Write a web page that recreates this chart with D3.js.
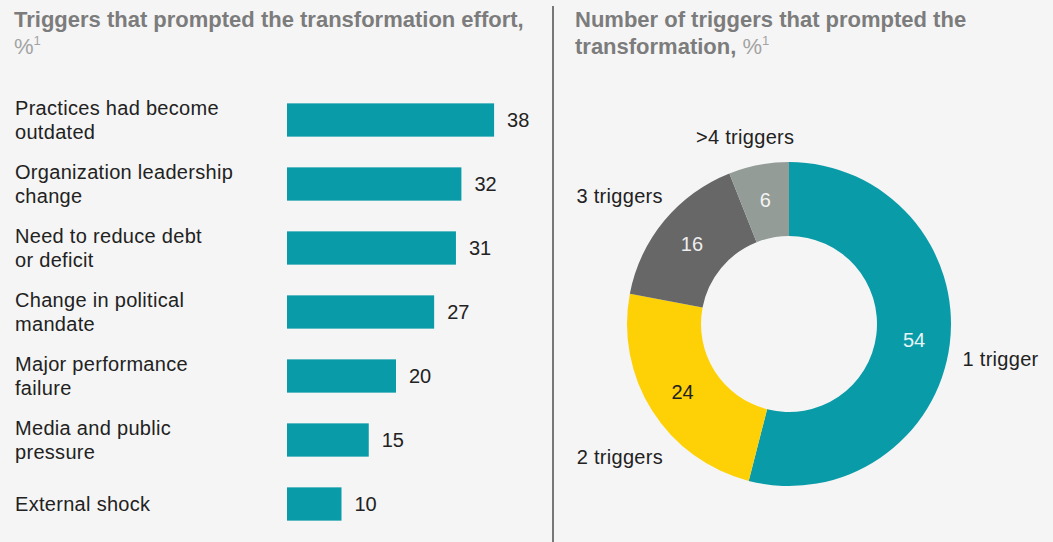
<!DOCTYPE html>
<html>
<head>
<meta charset="utf-8">
<script src="https://cdn.jsdelivr.net/npm/d3@7"></script>
<style>
  body { margin: 0; background: #f5f5f5; }
  svg { display: block; font-family: "Liberation Sans", Arial, sans-serif; }
</style>
</head>
<body>
<script>
// left panel: triggers
const triggers = [
  ["Practices had become", "outdated"],
  ["Organization leadership", "change"],
  ["Need to reduce debt", "or deficit"],
  ["Change in political", "mandate"],
  ["Major performance", "failure"],
  ["Media and public", "pressure"],
  ["External shock"]
];
const triggerValues = [38, 32, 31, 27, 20, 15, 10];

// right panel: number of triggers
const countLabels = ["1 trigger", "2 triggers", "3 triggers", ">4 triggers"];
const countValues = [54, 24, 16, 6];
const countColors = ["#0a9ba8", "#fdd106", "#676767", "#939c97"];
const countTextColors = ["#e6f4f5", "#222", "#eeeeee", "#f4f4f4"];

const W = 1053, H = 542;
const teal = "#0a9ba8";

const svg = d3.select("body").append("svg")
  .attr("width", W)
  .attr("height", H);

svg.append("rect").attr("width", W).attr("height", H).attr("fill", "#f5f5f5");

// titles
function title(x, lines) {
  const t = svg.append("text").attr("x", x).attr("y", 27)
    .attr("font-size", 22).attr("font-weight", "bold").attr("fill", "#7c7c7c");
  lines.forEach((l, i) => {
    t.append("tspan").attr("x", x).attr("dy", i ? 27 : 0).text(l);
  });
  return t;
}
title(14, ["Triggers that prompted the transformation effort,"]);
const pct1 = svg.append("text").attr("x", 14).attr("y", 54).attr("font-size", 22).attr("fill", "#a3a3a3");
pct1.append("tspan").text("%");
pct1.append("tspan").attr("font-size", 13).attr("dy", -9).text("1");

const t2 = title(575, ["Number of triggers that prompted the", "transformation,"]);
t2.append("tspan").attr("font-weight", "normal").attr("fill", "#a3a3a3").text(" %");
t2.append("tspan").attr("font-weight", "normal").attr("fill", "#a3a3a3")
  .attr("font-size", 13).attr("dy", -9).text("1");

// divider
svg.append("line")
  .attr("x1", 553).attr("x2", 553).attr("y1", 6).attr("y2", H)
  .attr("stroke", "#777").attr("stroke-width", 2);

// bar chart
const x = d3.scaleLinear().domain([0, 40]).range([287, 287 + 218]);
const y = d3.scaleBand().domain(d3.range(triggers.length)).range([88, 536]).paddingInner(0.48).paddingOuter(0.24);

svg.selectAll("rect.bar")
  .data(triggerValues)
  .enter()
  .append("rect")
  .attr("class", "bar")
  .attr("x", x(0))
  .attr("y", (d, i) => y(i))
  .attr("width", d => x(d) - x(0))
  .attr("height", y.bandwidth())
  .attr("fill", teal);

svg.selectAll("text.val")
  .data(triggerValues)
  .enter()
  .append("text")
  .attr("class", "val")
  .attr("x", d => x(d) + 13)
  .attr("y", (d, i) => y(i) + y.bandwidth() / 2)
  .attr("dy", "0.35em")
  .attr("font-size", 20)
  .attr("fill", "#222")
  .text(d => d);

triggers.forEach((lines, i) => {
  const cy = y(i) + y.bandwidth() / 2;
  const lh = 23.5;
  const t = svg.append("text")
    .attr("font-size", 20)
    .attr("letter-spacing", 0.3)
    .attr("fill", "#222");
  lines.forEach((l, j) => {
    t.append("tspan")
      .attr("x", 15)
      .attr("y", cy + (j - (lines.length - 1) / 2) * lh)
      .attr("dy", "0.35em")
      .text(l);
  });
});

// donut
const cx = 789, cy = 324;
const outerR = 162, innerR = 88;
const pie = d3.pie().sort(null).value(d => d);
const arcs = pie(countValues);
const arc = d3.arc().innerRadius(innerR).outerRadius(outerR);
const labelArc = d3.arc().innerRadius(126).outerRadius(126);

const g = svg.append("g").attr("transform", `translate(${cx},${cy})`);

g.selectAll("path")
  .data(arcs)
  .enter()
  .append("path")
  .attr("d", arc)
  .attr("fill", (d, i) => countColors[i]);

g.selectAll("text.slice")
  .data(arcs)
  .enter()
  .append("text")
  .attr("class", "slice")
  .attr("transform", d => `translate(${labelArc.centroid(d)})`)
  .attr("text-anchor", "middle")
  .attr("dy", "0.35em")
  .attr("font-size", 20)
  .attr("fill", (d, i) => countTextColors[i])
  .text(d => d.data);

// outside category labels: angle (deg) / radius / anchor for each slice
const outside = [
  { a: 101.4, r: 177, anchor: "start" },
  { a: 223.5, r: 183, anchor: "end" },
  { a: 315.5, r: 180, anchor: "end" },
  { a: 346.8, r: 192, anchor: "middle" }
];
g.selectAll("text.cat")
  .data(arcs)
  .enter()
  .append("text")
  .attr("class", "cat")
  .attr("transform", (d, i) => `translate(${d3.pointRadial(outside[i].a * Math.PI / 180, outside[i].r)})`)
  .attr("text-anchor", (d, i) => outside[i].anchor)
  .attr("dy", "0.35em")
  .attr("font-size", 20)
  .attr("letter-spacing", 0.3)
  .attr("fill", "#222")
  .text((d, i) => countLabels[i]);
</script>
</body>
</html>
